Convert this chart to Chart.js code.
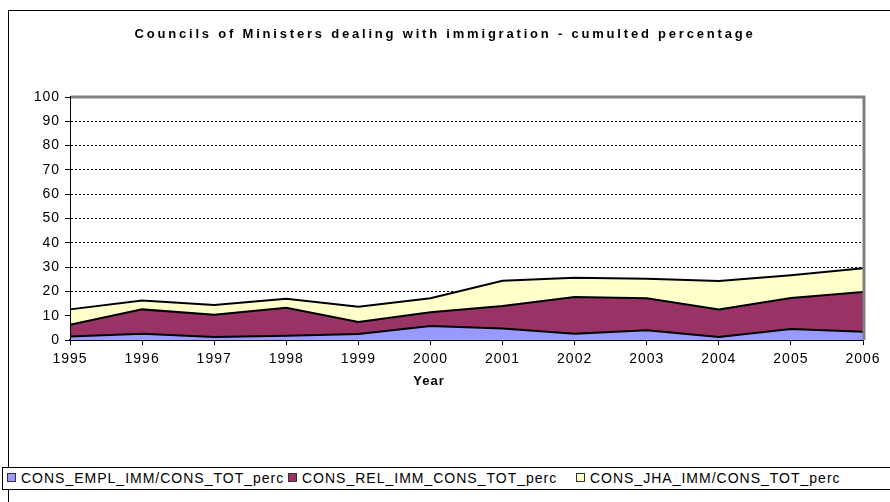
<!DOCTYPE html>
<html>
<head>
<meta charset="utf-8">
<script src="https://cdn.jsdelivr.net/npm/chart.js@4/dist/chart.umd.min.js"></script>
<style>
  html, body { margin: 0; padding: 0; background: #fff; }
  #wrap { position: relative; width: 890px; height: 502px; overflow: hidden; font-family: Arial, "Liberation Sans", sans-serif; }
  #frame { position: absolute; left: 8px; top: 10px; width: 900px; height: 520px; border-left: 1px solid #000; border-top: 1px solid #000; }
  #title { position: absolute; left: 0; width: 890px; top: 26px; text-align: center; font-weight: bold; font-size: 13px; letter-spacing: 2.8px; }
  #xTitle { position: absolute; left: 329px; width: 200px; top: 373px; text-align: center; font-weight: bold; font-size: 13px; letter-spacing: 1px; }
  #legend { position: absolute; left: 2px; top: 467px; width: 900px; height: 21px; border: 1px solid #000; background: #fff; white-space: nowrap; font-size: 14px; letter-spacing: 1px; }
  #legend .item { position: absolute; top: 2px; }
  #legend .box { display: inline-block; width: 7px; height: 7px; border: 1px solid #333; margin-right: 5px; vertical-align: 1px; }
  canvas { position: absolute; left: 0; top: 0; }
</style>
</head>
<body>
<div id="wrap">
  <div id="frame"></div>
  <canvas id="chart" width="890" height="502"></canvas>
  <div id="title">Councils of Ministers dealing with immigration - cumulted percentage</div>
  <div id="xTitle">Year</div>
  <div id="legend"></div>
</div>
<script>
"use strict";
const years = ['1995', '1996', '1997', '1998', '1999', '2000', '2001', '2002', '2003', '2004', '2005', '2006'];
const emplImm = [1.4, 2.6, 1.2, 1.8, 2.5, 5.8, 4.7, 2.6, 4.0, 1.2, 4.5, 3.4];
const relImm = [4.9, 10.0, 9.2, 11.5, 4.9, 5.6, 9.3, 15.1, 13.2, 11.4, 12.8, 16.4];
const jhaImm = [6.3, 3.7, 4.0, 3.7, 6.3, 5.8, 10.4, 7.9, 8.0, 11.7, 9.3, 9.7];
const seriesNames = ['CONS_EMPL_IMM/CONS_TOT_perc', 'CONS_REL_IMM_CONS_TOT_perc', 'CONS_JHA_IMM/CONS_TOT_perc'];
const seriesColors = ['#9999FF', '#993366', '#FFFFCC'];
const yTicks = [0, 10, 20, 30, 40, 50, 60, 70, 80, 90, 100];

// gray frame on top/right of plot area + solid black left axis (excel style)
const plotFrame = {
    id: 'plotFrame',
    beforeDraw(chart) {
        chart.ctx.letterSpacing = '1px';
    },
    afterDraw(chart) {
        const { ctx, chartArea: a } = chart;
        ctx.save();
        ctx.setLineDash([]);
        ctx.strokeStyle = '#808080';
        ctx.lineWidth = 3;
        ctx.beginPath();
        ctx.moveTo(a.left + 1, a.top);
        ctx.lineTo(a.right + 1, a.top);
        ctx.lineTo(a.right + 1, a.bottom);
        ctx.stroke();
        ctx.strokeStyle = '#000';
        ctx.lineWidth = 1;
        ctx.beginPath();
        ctx.moveTo(a.left + 0.5, a.top - 1);
        ctx.lineTo(a.left + 0.5, a.bottom);
        ctx.stroke();
        ctx.restore();
    }
};

const ctx = document.getElementById('chart').getContext('2d');
new Chart(ctx, {
    type: 'line',
    data: {
        labels: years,
        datasets: [
            { label: seriesNames[0], data: emplImm, backgroundColor: seriesColors[0], fill: 'origin' },
            { label: seriesNames[1], data: relImm, backgroundColor: seriesColors[1], fill: '-1' },
            { label: seriesNames[2], data: jhaImm, backgroundColor: seriesColors[2], fill: '-1' }
        ].map(d => Object.assign(d, { borderColor: '#000', borderWidth: 2, pointRadius: 0, tension: 0 }))
    },
    options: {
        responsive: false, animation: false,
        layout: { padding: { top: 97, right: 27, left: 0, bottom: 0 } },
        plugins: { legend: { display: false }, tooltip: { enabled: false } },
        scales: {
            x: {
                offset: false,
                afterFit: s => { s.height = 162; },
                grid: { drawOnChartArea: false, tickLength: 5, tickColor: '#000' },
                border: { color: '#000', width: 2 },
                ticks: { color: '#000', font: { family: 'Arial', size: 14 }, maxRotation: 0, autoSkip: false, padding: 6 }
            },
            y: {
                stacked: true, min: 0, max: 100,
                afterFit: s => { s.width = 70; },
                afterBuildTicks: s => { s.ticks = yTicks.map(v => ({ value: v })); },
                grid: {
                    color: c => (c.tick && (c.tick.value === 0 || c.tick.value === 100)) ? 'rgba(0,0,0,0)' : '#000',
                    tickBorderDash: [], tickColor: '#000', tickLength: 5, lineWidth: 1
                },
                border: { color: '#000', width: 1, dash: [2, 2] },
                ticks: { color: '#000', font: { family: 'Arial', size: 14 }, padding: 5 }
            }
        }
    },
    plugins: [plotFrame]
});

// legend row
const legendLeft = [6, 287, 575];
const legend = document.getElementById('legend');
seriesNames.forEach((name, i) => {
    legend.innerHTML += `<span class="item" style="left:${legendLeft[i] - 2}px"><span class="box" style="background:${seriesColors[i]}"></span>${name}</span>`;
});
</script>
</body>
</html>
